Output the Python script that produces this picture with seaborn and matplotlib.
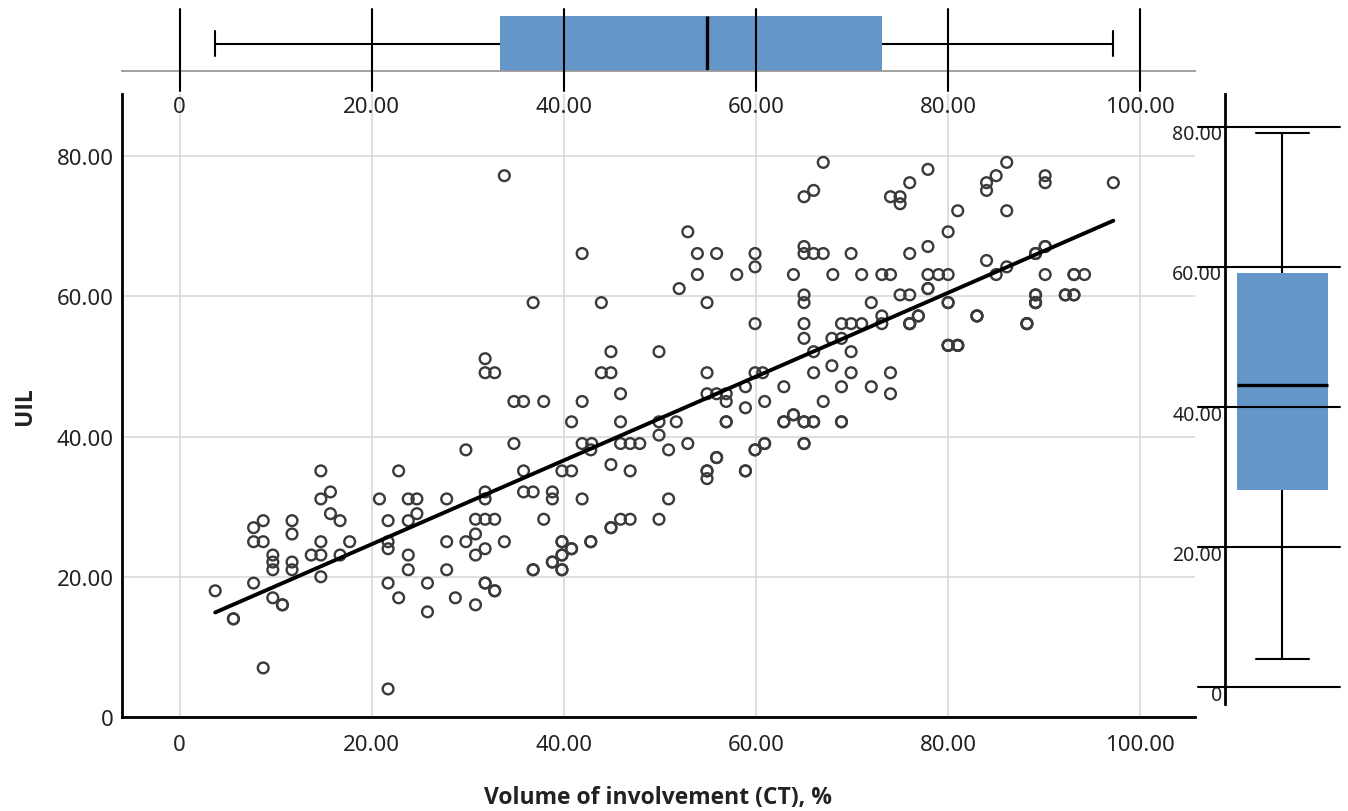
import matplotlib
matplotlib.use("Agg")
import matplotlib.pyplot as plt
from matplotlib.transforms import ScaledTranslation
import seaborn as sns

# Volume of involvement (CT), % and UIL for each patient
# (the last blocks hold overlapping circles that hide behind visible ones)
volume = [
    67.0, 66.0, 65.0, 76.0, 74.0, 75.0, 75.0, 52.9, 53.9, 55.9, 59.9, 59.9, 65.0, 65.0,
    66.0, 67.0, 69.9, 76.0, 53.9, 58.0, 63.9, 68.0, 71.0, 73.1, 74.0, 52.0, 65.0, 65.0,
    54.9, 72.0, 75.0, 76.0, 59.9, 65.0, 68.9, 69.9, 71.0, 73.1, 73.1, 76.0, 76.9,
    77.9, 86.1, 85.0, 84.0, 84.0, 90.1, 90.1, 97.2, 81.0, 86.1, 80.0, 77.9, 84.0, 77.9,
    79.0, 80.0, 85.0, 86.1, 89.1, 90.1, 90.1, 93.1, 94.2, 77.9, 80.0, 89.1, 89.1, 92.2,
    93.1, 83.0, 88.2, 80.0, 81.0,
    33.8, 36.8, 41.9, 43.9,
    31.8, 31.8, 32.8, 34.8, 35.8, 37.9, 44.9, 49.9, 43.9, 44.9, 45.9, 41.9, 40.8, 45.9,
    49.9, 51.7, 49.9, 50.9, 34.8, 29.8, 41.9, 42.9, 45.9, 46.9, 47.9, 42.8, 35.8, 39.8,
    40.8, 44.9, 46.9, 31.8, 31.8, 35.8, 36.8, 38.8, 38.8, 27.8, 41.9, 50.9, 30.8, 31.8,
    32.8, 37.9, 45.9, 46.9, 49.9,
    65.0, 67.9, 68.9, 69.9, 66.0, 54.9, 59.9, 60.7, 66.0, 67.9, 69.9, 74.0, 54.9, 55.9,
    56.9, 58.9, 56.9, 58.9, 60.9, 62.9, 68.9, 72.0, 74.0, 67.0, 56.9, 62.9, 63.9, 65.0,
    66.0, 68.9, 52.9, 60.9, 59.9, 65.0, 55.9, 54.9, 54.9, 58.9,
    14.7, 15.7, 14.7, 22.8, 20.8, 23.8, 24.7,
    7.7, 8.7, 11.7, 16.7, 21.7, 23.8, 24.7, 15.7,
    11.7, 7.7, 8.7, 14.7, 17.7, 9.7, 9.7, 9.7, 11.7, 11.7, 13.7, 14.7, 16.7, 14.7,
    7.7, 3.7, 9.7, 10.7, 5.6, 8.7, 21.7, 21.7, 23.8, 23.8, 21.7, 22.8, 25.8, 25.8, 21.7,
    30.8, 27.8, 29.8, 30.8, 31.8, 33.8, 27.8, 36.8, 39.8, 40.8, 39.8, 38.8, 39.8, 42.8,
    44.9, 31.8, 32.8, 28.7, 30.8,
    54.9, 55.9, 58.9, 59.9, 60.9, 62.9, 63.9, 65.0, 66.0, 68.9, 56.9, 65.0,
    88.2, 89.1, 89.1, 92.2, 93.1, 83.0, 80.0, 81.0, 76.0, 76.9, 80.0, 77.9,
    36.8, 39.8, 38.8, 39.8, 40.8, 42.8, 39.8, 44.9, 31.8, 32.8,
    80.0, 81.0, 83.0, 88.2, 89.1, 76.0,
    5.6, 10.7, 89.1, 90.1, 93.1,
]
uil = [
    79.1, 75.1, 74.2, 76.2, 74.2, 74.2, 73.2, 69.2, 66.1, 66.1, 66.1, 64.2, 67.1, 66.1,
    66.1, 66.1, 66.1, 66.1, 63.1, 63.1, 63.1, 63.1, 63.1, 63.1, 63.1, 61.1, 60.2, 59.1,
    59.1, 59.1, 60.2, 60.2, 56.1, 56.1, 56.1, 56.1, 56.1, 57.2, 56.1, 56.1, 57.2,
    78.1, 79.1, 77.2, 76.2, 75.1, 77.2, 76.2, 76.2, 72.2, 72.2, 69.2, 67.1, 65.1, 63.1,
    63.1, 63.1, 63.1, 64.2, 66.1, 67.1, 63.1, 63.1, 63.1, 61.1, 59.1, 60.2, 59.1, 60.2,
    60.2, 57.2, 56.1, 53.0, 53.0,
    77.2, 59.1, 66.1, 59.1,
    51.1, 49.1, 49.1, 45.0, 45.0, 45.0, 52.1, 52.1, 49.1, 49.1, 46.1, 45.0, 42.1, 42.1,
    42.1, 42.1, 40.2, 38.1, 39.0, 38.1, 39.0, 39.0, 39.0, 39.0, 39.0, 38.1, 35.1, 35.1,
    35.1, 36.0, 35.1, 32.1, 31.1, 32.1, 32.1, 32.1, 31.1, 31.1, 31.1, 31.1, 28.2, 28.2,
    28.2, 28.2, 28.2, 28.2, 28.2,
    54.0, 54.0, 54.0, 52.1, 52.1, 49.1, 49.1, 49.1, 49.1, 50.1, 49.1, 49.1, 46.1, 46.1,
    46.1, 47.1, 45.0, 44.1, 45.0, 47.1, 47.1, 47.1, 46.1, 45.0, 42.1, 42.1, 43.1, 42.1,
    42.1, 42.1, 39.0, 39.0, 38.1, 39.0, 37.0, 35.1, 34.0, 35.1,
    35.1, 32.1, 31.1, 35.1, 31.1, 31.1, 31.1,
    27.0, 28.0, 28.0, 28.0, 28.0, 28.0, 29.0, 29.0,
    26.1, 25.0, 25.0, 25.0, 25.0, 23.1, 22.1, 21.0, 22.1, 21.0, 23.1, 23.1, 23.1, 20.0,
    19.1, 18.0, 17.0, 16.0, 14.0, 7.0, 25.0, 24.0, 23.1, 21.0, 19.1, 17.0, 19.1, 15.0, 4.0,
    26.1, 25.0, 25.0, 23.1, 24.0, 25.0, 21.0, 21.0, 25.0, 24.0, 23.1, 22.1, 21.0, 25.0,
    27.0, 19.1, 18.0, 17.0, 16.0,
    35.1, 37.0, 35.1, 38.1, 39.0, 42.1, 43.1, 42.1, 42.1, 42.1, 42.1, 39.0,
    56.1, 59.1, 60.2, 60.2, 60.2, 57.2, 53.0, 53.0, 56.1, 57.2, 59.1, 61.1,
    21.0, 21.0, 22.1, 23.1, 24.0, 25.0, 25.0, 27.0, 19.1, 18.0,
    53.0, 53.0, 57.2, 56.1, 59.1, 56.1,
    14.0, 16.0, 66.1, 67.1, 63.1,
]

x_ticks = [0, 20, 40, 60, 80, 100]
x_tick_labels = ["0", "20.00", "40.00", "60.00", "80.00", "100.00"]
y_ticks = [0, 20, 40, 60, 80]
y_tick_labels = ["0", "20.00", "40.00", "60.00", "80.00"]

BLUE = "#6596c9"
TXT = "#222222"
W, H = 1348, 812


def rect(left, top, right, bottom):
    # pixel box -> figure fraction
    return [left / W, 1 - bottom / H, (right - left) / W, (bottom - top) / H]


sns.set_style("white")
plt.rcParams["font.family"] = ["Noto Sans", "DejaVu Sans"]
bold_font = {"family": ["Open Sans", "DejaVu Sans"], "weight": "bold", "size": 16.5}

fig = plt.figure(figsize=(W / 100, H / 100), dpi=100)
ax = fig.add_axes(rect(122, 95, 1195, 718))
ax_top = fig.add_axes(rect(122, 10, 1195, 72))
ax_right = fig.add_axes(rect(1225, 95, 1348, 705))

# main scatter + fit line
sns.scatterplot(x=volume, y=uil, ax=ax, s=60, facecolor="none",
                edgecolor="#3a3a3a", linewidth=1.7, zorder=3)
sns.regplot(x=volume, y=uil, ax=ax, scatter=False, ci=None, color="black",
            line_kws={"lw": 2.8, "zorder": 4})
ax.set_xlim(-6, 105.7)
ax.set_ylim(0, 88.85)
ax.set_xticks(x_ticks, x_tick_labels)
ax.set_yticks(y_ticks, y_tick_labels)
ax.grid(True, color="#d6d6d6", lw=1.1)
ax.set_axisbelow(True)
for s in ["top", "right"]:
    ax.spines[s].set_visible(False)
for s in ["left", "bottom"]:
    ax.spines[s].set_color("black")
    ax.spines[s].set_linewidth(2.0)
ax.tick_params(axis="x", length=0, pad=12, labelsize=16, colors=TXT)
ax.tick_params(axis="y", length=0, pad=6, labelsize=16, colors=TXT)
ax.set_xlabel("Volume of involvement (CT), %", fontdict=bold_font, color=TXT,
              labelpad=22)
ax.set_ylabel("UIL", fontdict=bold_font, color=TXT, labelpad=14)

# top marginal boxplot
sns.boxplot(x=volume, ax=ax_top, whis=(0, 100), width=0.8, color=BLUE,
            saturation=1, linecolor="black", linewidth=1.5, fliersize=0,
            boxprops={"edgecolor": "none"}, medianprops={"linewidth": 2.4},
            capwidths=0.35)
ax_top.set_xlim(-6, 105.7)
ax_top.set_ylim(0.4, -0.502)
for v in x_ticks:
    ax_top.axvline(v, ymin=-0.32, ymax=1, color="black", lw=1.5,
                   clip_on=False, zorder=5)
ax_top.set_xticks(x_ticks, x_tick_labels)
ax_top.set_yticks([])
ax_top.tick_params(axis="x", length=0, pad=18, labelsize=16, colors=TXT)
for s in ["top", "right", "left"]:
    ax_top.spines[s].set_visible(False)
ax_top.spines["bottom"].set_color("#9a9a9a")
ax_top.spines["bottom"].set_linewidth(1.3)
ax_top.set_xlabel("")
ax_top.set_ylabel("")
ax_top.patch.set_alpha(0)

# right marginal boxplot
sns.boxplot(y=uil, ax=ax_right, whis=(0, 100), width=0.8, color=BLUE,
            saturation=1, linecolor="black", linewidth=1.5, fliersize=0,
            boxprops={"edgecolor": "none"}, medianprops={"linewidth": 2.4},
            capwidths=0.466)
ax_right.set_xlim(-0.5055, 0.576)
ax_right.set_ylim(-2.4, 84.7)
for v in y_ticks:
    ax_right.axhline(v, xmin=-0.22, xmax=0.935, color="black", lw=1.5,
                     clip_on=False, zorder=5)
ax_right.set_yticks(y_ticks, y_tick_labels)
ax_right.set_xticks([])
ax_right.tick_params(axis="y", length=0, pad=2, labelsize=14, colors=TXT)
shift = ScaledTranslation(0, -0.05, fig.dpi_scale_trans)
for lbl in ax_right.get_yticklabels():
    lbl.set_transform(lbl.get_transform() + shift)
for s in ["top", "right", "bottom"]:
    ax_right.spines[s].set_visible(False)
ax_right.spines["left"].set_color("black")
ax_right.spines["left"].set_linewidth(2.0)
ax_right.set_xlabel("")
ax_right.set_ylabel("")
ax_right.patch.set_alpha(0)

fig.savefig("out.png", dpi=100)
plt.close(fig)
